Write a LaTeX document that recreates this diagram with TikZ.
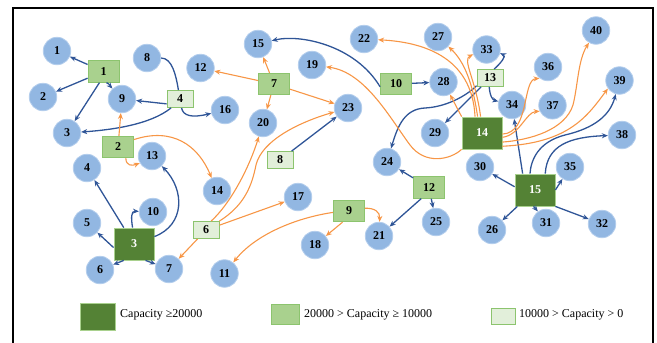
\documentclass[tikz,border=0pt]{standalone}
\usepackage{fontspec}
\setmainfont{Liberation Serif}
\usetikzlibrary{arrows.meta}
\definecolor{cfill}{HTML}{92B7E2}
\definecolor{cdraw}{HTML}{B3CDEC}
\definecolor{dkg}{HTML}{548235}
\definecolor{dkgb}{HTML}{A9D18E}
\definecolor{mdg}{HTML}{A9D18E}
\definecolor{mdgb}{HTML}{8CC46E}
\definecolor{ltg}{HTML}{E2EFDA}
\definecolor{ltgb}{HTML}{8CC46E}
\definecolor{bluec}{HTML}{2F5597}
\definecolor{orgc}{HTML}{F79646}
\begin{document}
\begin{tikzpicture}[x=1pt,y=-1pt,
  lbl/.style={font=\bfseries\fontsize{12}{12}\selectfont},
  cust/.style={circle,minimum size=27.5pt,inner sep=0pt,fill=cfill,draw=cdraw,line width=0.8pt,lbl},
  dark/.style={rectangle,minimum width=40pt,minimum height=32pt,inner sep=0pt,fill=dkg,draw=dkgb,line width=0.8pt,text=white,lbl},
  med/.style={rectangle,minimum width=31pt,minimum height=21.5pt,inner sep=0pt,fill=mdg,draw=mdgb,line width=0.8pt,lbl},
  light/.style={rectangle,minimum width=26pt,minimum height=17pt,inner sep=0pt,fill=ltg,draw=ltgb,line width=0.8pt,lbl},
  bl/.style={draw=bluec,line width=1.3pt,-{Stealth[length=6pt,width=5pt]}},
  bll/.style={draw=bluec,line width=1.3pt},
  ol/.style={draw=orgc,line width=1.1pt,-{Stealth[length=6pt,width=5pt]}},
  legtext/.style={anchor=west,inner sep=0pt,font=\fontsize{12}{12}\selectfont}
]
\useasboundingbox (0,0) rectangle (657,343);
\draw[line width=2pt] (13,343) -- (13,8) -- (653,8) -- (653,343);

% customers
\node[cust] (c1) at (57,51) {1};
\node[cust] (c2) at (43,97) {2};
\node[cust] (c3) at (67,133) {3};
\node[cust] (c4) at (87,168) {4};
\node[cust] (c5) at (87,223) {5};
\node[cust] (c6) at (100,270) {6};
\node[cust] (c7) at (169,269) {7};
\node[cust] (c8) at (147,58) {8};
\node[cust] (c9) at (122,99) {9};
\node[cust] (c10) at (153,212) {10};
\node[cust] (c11) at (224.5,273.5) {11};
\node[cust] (c12) at (200.5,68) {12};
\node[cust] (c13) at (152,156) {13};
\node[cust] (c14) at (217,191) {14};
\node[cust] (c15) at (258,44) {15};
\node[cust] (c16) at (225,110) {16};
\node[cust] (c17) at (298,197) {17};
\node[cust] (c18) at (315,245) {18};
\node[cust] (c19) at (312,65) {19};
\node[cust] (c20) at (263,123) {20};
\node[cust] (c21) at (379,236) {21};
\node[cust] (c22) at (364,39) {22};
\node[cust] (c23) at (348,108) {23};
\node[cust] (c24) at (387,162) {24};
\node[cust] (c25) at (436,222) {25};
\node[cust] (c26) at (492,230) {26};
\node[cust] (c27) at (438,37) {27};
\node[cust] (c28) at (443.5,82) {28};
\node[cust] (c29) at (435,133) {29};
\node[cust] (c30) at (480,167) {30};
\node[cust] (c31) at (546,223) {31};
\node[cust] (c32) at (602,224) {32};
\node[cust] (c33) at (486.5,49.5) {33};
\node[cust] (c34) at (512,105) {34};
\node[cust] (c35) at (570,167) {35};
\node[cust] (c36) at (548,67) {36};
\node[cust] (c37) at (552.5,105.3) {37};
\node[cust] (c38) at (622,135) {38};
\node[cust] (c39) at (619.5,80.5) {39};
\node[cust] (c40) at (596,30.5) {40};

% facilities
\node[med] (f1) at (103.5,71.5) {1};
\node[med] (f2) at (118,147) {2};
\node[dark] (f3) at (134,244) {3};
\node[light] (f4) at (180,99) {4};
\node[light] (f6) at (206,230) {6};
\node[med] (f7) at (274,84) {7};
\node[light] (f8) at (280,160) {8};
\node[med] (f9) at (349,211) {9};
\node[med] (f10) at (396,84) {10};
\node[med] (f12) at (429,187.5) {12};
\node[light] (f13) at (490,78) {13};
\node[dark] (f14) at (482,133) {14};
\node[dark] (f15) at (535,190) {15};

% blue connectors
\draw[bl] (f1) -- (c1);
\draw[bl] (f1) -- (c2);
\draw[bl] (f1.250) -- (c3);
\draw[bl] (f1.285) .. controls (110,84) and (111,87) .. (c9);
\draw[bll] (f4.100) .. controls (176,75) and (172,58) .. (c8);
\draw[bl] (f4.200) -- (c9);
\draw[bl] (f4.280) .. controls (183,116) and (192,118) .. (c16);
\draw[bl] (f4.225) .. controls (150,125) and (110,130) .. (c3);
\draw[bl] (f3.122) -- (c4);
\draw[bl] (f3.190) -- (c5);
\draw[bl] (f3.238) -- (c6);
\draw[bl] (f3.305) -- (c7);
\draw[bl] (f3.95) .. controls (131,218) and (131,211) .. (c10);
\draw[bl] (f3.20) .. controls (185,225) and (185,190) .. (c13);
\draw[bl] (f10.190) .. controls (355,45) and (300,34) .. (c15);
\draw[bl] (f10) -- (c28);
\draw[bl] (f8) -- (c23);
\draw[bl] (f12) -- (c24);
\draw[bl] (f12) -- (c25);
\draw[bl] (f12.235) -- (c21);
\draw[bl] (f13.65) .. controls (502,62) and (506,56) .. (c33.-15);
\draw[bl] (f13.265) .. controls (490,97) and (493,100) .. (c34);
\draw[bl] (f13) -- (c29);
\draw[bl] (f13.210) .. controls (465,97) and (445,107) .. (425,108) .. controls (405,109) and (398,125) .. (c24);
\draw[bl] (f15.171) -- (c30);
\draw[bl] (f15) -- (c26);
\draw[bl] (f15.265) -- (c31.125);
\draw[bl] (f15.south east) -- (c32);
\draw[bl] (f15.east) -- (c35);
\draw[bl] (f15.127) -- (c34);
\draw[bl] (f15.107) .. controls (531,160) and (538,142) .. (565,135) .. controls (595,128) and (610,115) .. (c39);
\draw[bl] (f15.58) .. controls (547,145) and (570,137) .. (c38);

% orange connectors
\draw[ol] (f2) -- (c9);
\draw[ol] (f2.305) .. controls (126,166) and (132,166) .. (c13.210);
\draw[ol] (f2.25) .. controls (172,127) and (198,145) .. (c14);
\draw[ol] (f7) -- (c12);
\draw[ol] (f7) -- (c15);
\draw[ol] (f7) -- (c20);
\draw[ol] (f7) -- (c23);
\draw[ol] (f6.60) .. controls (232,202) and (250,165) .. (c20);
\draw[ol] (f6.north east) .. controls (245,205) and (252,185) .. (256,165) .. controls (262,140) and (300,122) .. (c23);
\draw[ol] (f6) -- (c17);
\draw[ol] (f6) -- (c7);
\draw[ol] (f9.185) .. controls (295,218) and (255,235) .. (c11);
\draw[ol] (f9.240) -- (c18);
\draw[ol] (f9.10) .. controls (375,208) and (380,212) .. (c21);
\draw[ol] (f14.113) .. controls (472,55) and (420,42) .. (c22);
\draw[ol] (f14.105) .. controls (473,85) and (465,62) .. (c27);
\draw[ol] (f14.95) .. controls (476,80) and (462,60) .. (c33.200);
\draw[ol] (f14.north west) -- (c28);
\draw[ol] (f14.south west) .. controls (450,160) and (425,165) .. (410,145) .. controls (390,118) and (365,72) .. (c19);
\draw[ol] (f14.-3) .. controls (530,133) and (522,80) .. (c36.233);
\draw[ol] (f14.-12) .. controls (520,135) and (526,112) .. (c37.205);
\draw[ol] (f14.-24) .. controls (530,140) and (565,130) .. (573,105) .. controls (578,85) and (578,60) .. (c40.240);
\draw[ol] (f14.-33) .. controls (570,143) and (588,115) .. (c39.215);

% legend
\node[rectangle,minimum width=35pt,minimum height=27pt,inner sep=0pt,fill=dkg,draw=dkgb,line width=0.8pt] (l1) at (97.5,316.5) {};
\node[legtext] (t1) at (120,315) {Capacity ≥20000};
\node[rectangle,minimum width=28pt,minimum height=20pt,inner sep=0pt,fill=mdg,draw=mdgb,line width=0.8pt] (l2) at (285,314.3) {};
\node[legtext] (t2) at (304,315) {20000 > Capacity ≥ 10000};
\node[rectangle,minimum width=24pt,minimum height=16pt,inner sep=0pt,fill=ltg,draw=ltgb,line width=0.8pt] (l3) at (503,316) {};
\node[legtext] (t3) at (519,315) {10000 > Capacity > 0};
\end{tikzpicture}
\end{document}
